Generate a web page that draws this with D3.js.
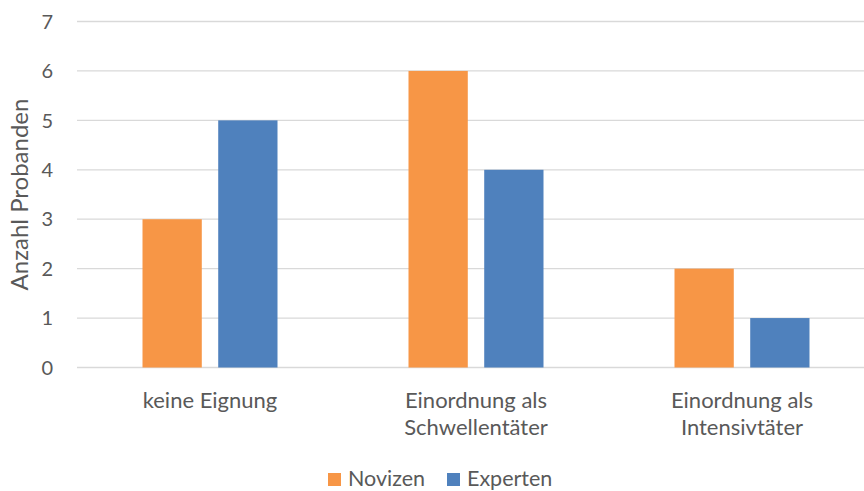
<!DOCTYPE html>
<html><head><meta charset="utf-8">
<script src="https://cdn.jsdelivr.net/npm/d3@7"></script>
<style>body{margin:0;background:#fff}svg{display:block}text{font-family:Lato,sans-serif;fill:#595959}</style>
</head><body>
<script>
const categories = [["keine Eignung"], ["Einordnung als", "Schwellentäter"], ["Einordnung als", "Intensivtäter"]];
const seriesNames = ["Novizen", "Experten"];
const novizen = [3, 6, 2];
const experten = [5, 4, 1];
const yTicks = [0, 1, 2, 3, 4, 5, 6, 7];
const colors = ["#F79646", "#4F81BD"];

const W = 864, H = 491;
const svg = d3.select("body").append("svg").attr("width", W).attr("height", H);
const x0 = d3.scaleBand().domain(d3.range(categories.length)).range([77, 875]).paddingInner(0).paddingOuter(0);
const x1 = d3.scaleBand().domain([0, 1]).range([65.5, 266 - 65.5]).paddingInner(0.217);
const y = d3.scaleLinear().domain([0, 7]).range([367.5, 21.5]);

svg.append("g").selectAll("line").data(yTicks).join("line")
  .attr("x1", 77).attr("x2", 875)
  .attr("y1", d => y(d)).attr("y2", d => y(d))
  .attr("stroke", "#d9d9d9").attr("stroke-width", 1.3);

svg.append("g").selectAll("text").data(yTicks).join("text")
  .attr("x", 53).attr("y", d => y(d)).attr("dy", "0.36em")
  .attr("text-anchor", "end").attr("font-size", 20).text(d => d);

const data = [novizen, experten];
data.forEach((vals, s) => {
  svg.append("g").selectAll("rect").data(vals).join("rect")
    .attr("x", (d, i) => x0(i) + x1(s))
    .attr("width", x1.bandwidth())
    .attr("y", d => y(d))
    .attr("height", d => y(0) - y(d))
    .attr("fill", colors[s]);
});

categories.forEach((lines, i) => {
  const cx = x0(i) + x0.bandwidth() / 2;
  const t = svg.append("text").attr("text-anchor", "middle").attr("font-size", 22)
    .attr("x", cx).attr("y", 408);
  lines.forEach((l, k) => t.append("tspan").attr("x", cx).attr("dy", k ? 27 : 0).text(l));
});

svg.append("text").attr("transform", `translate(28,${(y(0) + y(7)) / 2}) rotate(-90)`)
  .attr("text-anchor", "middle").attr("font-size", 24).text("Anzahl Probanden");

const leg = [{x: 328, name: seriesNames[0], c: colors[0]}, {x: 447, name: seriesNames[1], c: colors[1]}];
leg.forEach(l => {
  svg.append("rect").attr("x", l.x).attr("y", 473).attr("width", 13).attr("height", 13).attr("fill", l.c);
  svg.append("text").attr("x", l.x + 20).attr("y", 486).attr("font-size", 21.5).text(l.name);
});
</script>
</body></html>
